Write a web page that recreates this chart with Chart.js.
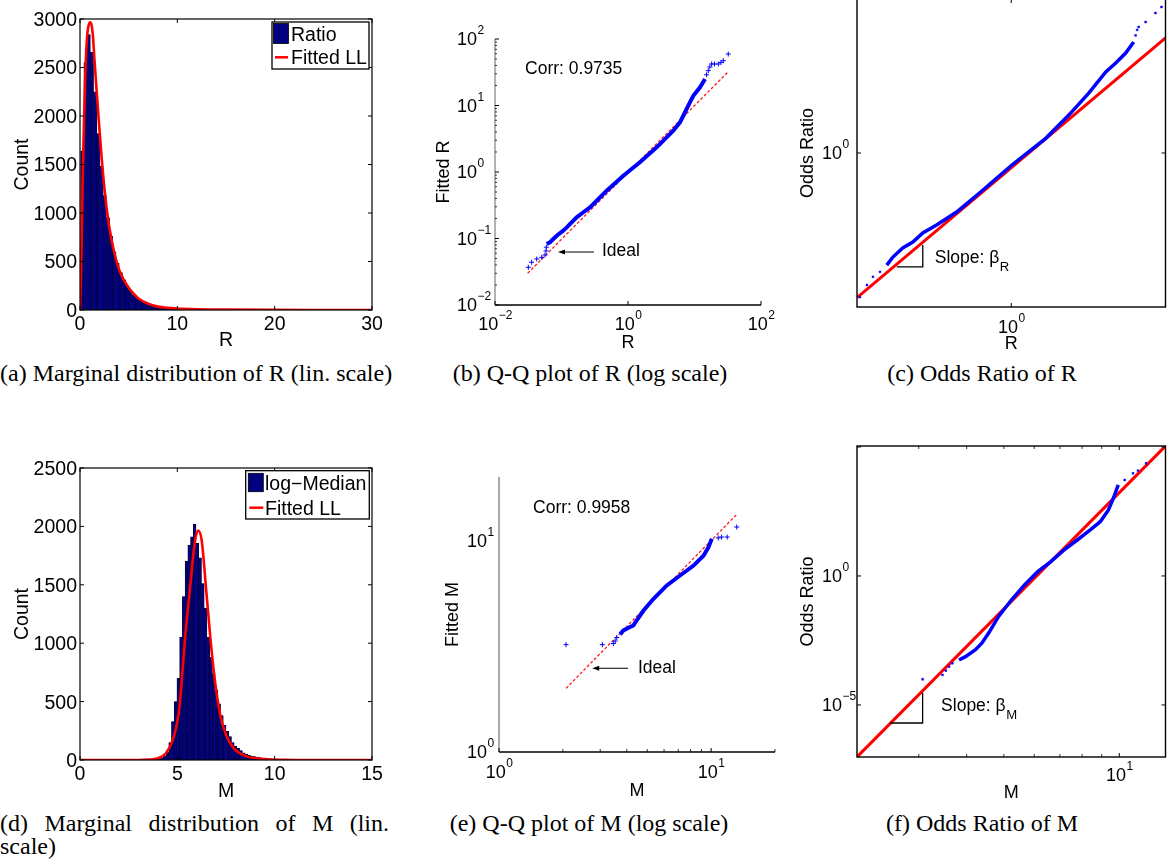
<!DOCTYPE html>
<html><head><meta charset="utf-8">
<script src="https://cdn.jsdelivr.net/npm/chart.js@4/dist/chart.umd.min.js"></script>
<style>
html,body{margin:0;padding:0;background:#fff;width:1167px;height:859px;overflow:hidden;position:relative;}
canvas{position:absolute;}
.cap{position:absolute;font-family:"Liberation Serif","Times New Roman",serif;font-size:24px;line-height:26px;white-space:nowrap;color:#000;}
</style></head><body>
<canvas id="ca"></canvas><canvas id="cb"></canvas><canvas id="cc"></canvas>
<canvas id="cd"></canvas><canvas id="ce"></canvas><canvas id="cf"></canvas>
<div class="cap" style="left:0;top:360px;width:390px;text-align:center">(a) Marginal distribution of R (lin. scale)</div>
<div class="cap" style="left:390px;top:360px;width:400px;text-align:center">(b) Q-Q plot of R (log scale)</div>
<div class="cap" style="left:782px;top:360px;width:400px;text-align:center">(c) Odds Ratio of R</div>
<div class="cap" style="left:0;top:810px;width:389px;text-align:justify;text-align-last:justify">(d) Marginal distribution of M (lin.</div>
<div class="cap" style="left:0;top:833px;">scale)</div>
<div class="cap" style="left:389px;top:810px;width:400px;text-align:center">(e) Q-Q plot of M (log scale)</div>
<div class="cap" style="left:782px;top:810px;width:400px;text-align:center">(f) Odds Ratio of M</div>
<script>
// ---------------- DATA ----------------
// (a) histogram of R
const rBinCenters = [0.235,0.565,0.895,1.225,1.555,1.885,2.215,2.545,2.875,3.205,3.535,3.865,4.195,4.525,4.855,5.185,5.515,5.845,6.175,6.505,6.835,7.165,7.495,7.825,8.155,8.485,8.815,9.145,9.475,9.805,10.135,10.465,10.795,11.125,11.455,11.785,12.115,12.445,12.775,13.105,13.435,13.765,14.095,14.425,14.755];
const rCounts = [1640,2550,2840,2660,2250,1820,1480,1180,950,760,600,480,385,310,250,200,160,128,102,82,67,55,45,37,31,26,21,18,15,13,11,9,8,7,6,5,5,4,4,3,3,3,2,2,2];
const rFitX = [0,0.1,0.2,0.35,0.5,0.7,0.9,1.1,1.3,1.5,1.75,2.0,2.25,2.5,2.75,3.0,3.5,4.0,4.5,5.0,5.5,6.0,7.0,8.0,9.0,10,12,15,20,25,30];
const rFitY = [0,350,900,1700,2300,2780,2940,2965,2860,2560,2200,1860,1540,1260,1040,860,600,420,310,230,170,118,64,35,22,15,8,3.5,1.2,0.6,0.3];
const aXTicks = [0,10,20,30];
const aYTicks = [0,500,1000,1500,2000,2500,3000];

// (b) Q-Q plot of R
const qqRDenseX = [0.0599,0.0671,0.0753,0.0847,0.106,0.120,0.142,0.169,0.213,0.268,0.338,0.478,0.850,1.51,2.70,4.80,6.05,7.20,8.56,9.60,12.1,14.4];
const qqRDenseY = [0.0826,0.0877,0.0983,0.110,0.131,0.147,0.175,0.208,0.248,0.294,0.370,0.524,0.880,1.40,2.35,4.18,5.59,7.91,11.2,14.0,18.8,25.0];
const qqRSparseX = [0.0317,0.0356,0.0424,0.0504,0.0565,0.0585,0.0592,15.2,16.1,17.0,18.1,20.0,22.8,25.0,27.1,32.2];
const qqRSparseY = [0.0369,0.0439,0.0492,0.0521,0.0565,0.065,0.074,29.0,33.4,38.0,42.1,42.1,42.1,44.5,47.2,59.4];
const qqRIdealX = [0.031,32];
const qqRIdealY = [0.030,32];
const bXExp = [-2,0,2];
const bYExp = [-2,-1,0,1,2];

// (c) Odds ratio of R
const orRDenseX = [0.156,0.171,0.198,0.230,0.267,0.328,0.442,0.622,1.01,1.68,2.37,3.18,4.10,4.76,5.52,6.22];
const orRDenseY = [0.187,0.211,0.242,0.264,0.303,0.341,0.414,0.550,0.836,1.25,1.77,2.45,3.36,3.84,4.46,5.26];
const orRSparseX = [0.100,0.1045,0.116,0.127,0.141,6.40,6.55,6.70,7.43,8.61,9.42];
const orRSparseY = [0.100,0.116,0.139,0.157,0.169,5.80,6.30,6.58,7.09,8.11,8.87];
const orRFitX = [0.1,10];
const orRFitY = [0.115,5.58];
const cXExp = [0];
const cYExp = [0];

// (d) histogram of M
const mBinCenters = [3.93,4.07,4.21,4.35,4.49,4.63,4.77,4.91,5.05,5.19,5.33,5.47,5.61,5.75,5.89,6.03,6.17,6.31,6.45,6.59,6.73,6.87,7.01,7.15,7.29,7.43,7.57,7.71,7.85,7.99,8.13,8.27,8.41,8.55,8.69,8.83,8.97,9.11,9.25,9.39,9.53,9.67,9.81,9.95,10.09,10.23,10.37,10.51];
const mCounts = [3,8,18,35,65,150,330,500,700,1050,1400,1700,1840,1910,2020,1855,1730,1510,1300,1050,880,740,600,480,380,300,245,200,150,120,100,80,62,48,40,34,29,25,21,17,14,11,9,7,5,4,3,2];
const mFitX = [0,3.0,3.5,4.0,4.4,4.8,5.1,5.4,5.7,5.9,6.07,6.25,6.5,6.7,6.93,7.2,7.5,7.9,8.5,9.5,10.5,12,15];
const mFitY = [0,0,3,15,55,190,440,1050,1550,1870,1965,1880,1420,1040,680,390,215,100,35,8,2,0.3,0];
const dXTicks = [0,5,10,15];
const dYTicks = [0,500,1000,1500,2000,2500];

// (e) Q-Q plot of M
const qqMDenseX = [3.72,3.86,4.15,4.30,4.46,4.80,5.35,6.18,7.14,8.26,9.20,9.71,10.07];
const qqMDenseY = [3.60,3.76,3.90,3.97,4.20,4.67,5.31,6.14,6.84,7.62,8.49,9.29,10.2];
const qqMSparseX = [2.07,3.07,3.46,3.53,3.59,10.8,11.2,11.9,13.2];
const qqMSparseY = [3.22,3.22,3.26,3.35,3.48,10.3,10.4,10.4,11.6];
const qqMIdealX = [2.07,13.2];
const qqMIdealY = [2.0,13.3];
const eXExp = [0,1];
const eYExp = [0,1];

// (f) Odds ratio of M
const orMDenseX = [3.82,3.97,4.21,4.38,4.56,4.84,5.23,5.66,6.13,6.63,7.18,7.77,8.40,8.92,9.37,9.65,9.94];
const orMDenseY = [5.55e-4,7.45e-4,1.35e-3,2.46e-3,6.0e-3,0.0264,0.117,0.448,1.47,3.58,10.2,24.8,60.7,127,361,1027,3370];
const orMSparseX = [3.07,3.46,3.53,3.60,3.67,10.33,10.86,11.19,11.75];
const orMSparseY = [9.9e-5,1.46e-4,2.13e-4,3.05e-4,4.13e-4,5260,9570,12060,23300];
const orMFitX = [2.07,13.2];
const orMFitY = [9.6e-8,1.09e5];
const fXExp = [1];
const fYExp = [0,-5];

// ---------------- HELPERS ----------------
const F = '"Liberation Sans", Arial, Helvetica, sans-serif';
const pts = (xs, ys) => xs.map((x, i) => ({x: x, y: ys[i]}));
function txt(ctx, s, x, y, size, align) {
  ctx.font = size + 'px ' + F; ctx.textAlign = align || 'left'; ctx.textBaseline = 'alphabetic';
  ctx.fillText(s, x, y + size * 0.355);
}
function pow10(ctx, e, x, y, size, esize, mode) {
  const es = String(e).replace('-', '\u2212');
  ctx.font = size + 'px ' + F; const bw = ctx.measureText('10').width;
  ctx.font = esize + 'px ' + F; const ew = ctx.measureText(es).width;
  const bx = mode === 'center' ? x - (bw + ew) / 2 : x - bw;
  txt(ctx, '10', bx, y, size, 'left');
  txt(ctx, es, bx + bw + 0.5, y - size * 0.5, esize, 'left');
}
function minorLog(lo, hi) {
  const out = [];
  for (let k = Math.floor(Math.log10(lo)); k <= Math.ceil(Math.log10(hi)); k++)
    for (let m = 2; m <= 9; m++) { const v = m * Math.pow(10, k); if (v > lo && v < hi) out.push(v); }
  return out;
}
function seg(ctx, x1, y1, x2, y2) { ctx.beginPath(); ctx.moveTo(x1, y1); ctx.lineTo(x2, y2); ctx.stroke(); }

function matlab(cfg) {
  return {
    id: 'matlab',
    afterDatasetsDraw(chart) {
      const ctx = chart.ctx, ca = chart.chartArea, X = chart.scales.x, Y = chart.scales.y;
      const L = ca.left, R = ca.right, T = ca.top, B = ca.bottom;
      ctx.save();
      ctx.fillStyle = '#000'; ctx.strokeStyle = '#000';
      if (cfg.box) {
        ctx.lineWidth = cfg.lw; ctx.strokeRect(L, T, R - L, B - T);
      } else {
        ctx.lineWidth = cfg.lwLeft; ctx.strokeStyle = cfg.leftColor; seg(ctx, L, T, L, B);
        ctx.lineWidth = cfg.lwBottom; ctx.strokeStyle = '#000'; seg(ctx, L, B, R, B);
      }
      ctx.strokeStyle = '#000'; ctx.lineWidth = 1;
      const tl = cfg.tickLen, ml = cfg.minorLen;
      (cfg.xMarks || []).forEach(v => { const p = X.getPixelForValue(v); seg(ctx, p, B, p, B - tl); if (cfg.box) seg(ctx, p, T, p, T + tl); });
      (cfg.yMarks || []).forEach(v => { const p = Y.getPixelForValue(v); seg(ctx, L, p, L + tl, p); if (cfg.box) seg(ctx, R, p, R - tl, p); });
      ctx.lineWidth = 0.8;
      (cfg.xMinor || []).forEach(v => { const p = X.getPixelForValue(v); seg(ctx, p, B, p, B - ml); if (cfg.box) seg(ctx, p, T, p, T + ml); });
      (cfg.yMinor || []).forEach(v => { const p = Y.getPixelForValue(v); seg(ctx, L, p, L + ml, p); if (cfg.box) seg(ctx, R, p, R - ml, p); });
      ctx.fillStyle = '#000';
      (cfg.xLabels || []).forEach(v => {
        const p = X.getPixelForValue(cfg.log ? Math.pow(10, v) : v);
        if (cfg.log) pow10(ctx, v, p, B + cfg.xLabDy, cfg.tf, cfg.ef, 'center');
        else txt(ctx, String(v), p, B + cfg.xLabDy, cfg.tf, 'center');
      });
      (cfg.yLabels || []).forEach(v => {
        const p = Y.getPixelForValue(cfg.log ? Math.pow(10, v) : v);
        if (cfg.log) pow10(ctx, v, L - cfg.yLabDx, p, cfg.tf, cfg.ef, 'right');
        else txt(ctx, String(v), L - cfg.yLabDx, p, cfg.tf, 'right');
      });
      txt(ctx, cfg.xTitle, (L + R) / 2 + (cfg.xTitleDx || 0), B + cfg.xTitleDy, cfg.titleF, 'center');
      ctx.save(); ctx.translate(L + cfg.yTitleDx, (T + B) / 2); ctx.rotate(-Math.PI / 2);
      txt(ctx, cfg.yTitle, 0, 0, cfg.titleF, 'center'); ctx.restore();
      (cfg.texts || []).forEach(t => {
        const px = X.getPixelForValue(t.x), py = Y.getPixelForValue(t.y);
        txt(ctx, t.text, px, py, t.size, 'left');
        if (t.sub) { ctx.font = t.size + 'px ' + F; const w = ctx.measureText(t.text).width; txt(ctx, t.sub, px + w + 0.5, py + t.size * 0.55, t.size * 0.75, 'left'); }
      });
      ctx.lineWidth = 1;
      (cfg.arrows || []).forEach(a => {
        const x1 = X.getPixelForValue(a.x1), x2 = X.getPixelForValue(a.x2), y = Y.getPixelForValue(a.y);
        seg(ctx, x1, y, x2 + 3, y);
        ctx.beginPath(); ctx.moveTo(x2, y); ctx.lineTo(x2 + 7, y - 2.5); ctx.lineTo(x2 + 7, y + 2.5); ctx.closePath(); ctx.fill();
      });
      ctx.lineWidth = 1.3;
      (cfg.tris || []).forEach(t => {
        const x1 = X.getPixelForValue(t.x1), x2 = X.getPixelForValue(t.x2), y1 = Y.getPixelForValue(t.y1), y2 = Y.getPixelForValue(t.y2);
        ctx.beginPath(); ctx.moveTo(x1, y1); ctx.lineTo(x2, y1); ctx.lineTo(x2, y2); ctx.stroke();
      });
      if (cfg.legend) {
        const lg = cfg.legend, bx = R - lg.right - lg.w, by = T + lg.top;
        ctx.fillStyle = '#fff'; ctx.fillRect(bx, by, lg.w, lg.h);
        ctx.strokeStyle = '#000'; ctx.lineWidth = 1.3; ctx.strokeRect(bx, by, lg.w, lg.h);
        lg.items.forEach(it => {
          if (it.kind === 'box') {
            ctx.fillStyle = '#000080'; ctx.fillRect(bx + it.sx, by + it.sy, it.sw, it.sh);
            ctx.lineWidth = 0.8; ctx.strokeStyle = '#000'; ctx.strokeRect(bx + it.sx, by + it.sy, it.sw, it.sh);
          } else {
            ctx.strokeStyle = '#ff0000'; ctx.lineWidth = 2.5; seg(ctx, bx + it.sx, by + it.ty, bx + it.sx + it.sw, by + it.ty);
          }
          ctx.fillStyle = '#000'; txt(ctx, it.text, bx + lg.tx, by + it.ty, lg.size, 'left');
        });
      }
      ctx.restore();
    }
  };
}

function place(id, x0, y0, w, h) {
  const c = document.getElementById(id);
  c.width = w; c.height = h;
  c.style.left = x0 + 'px'; c.style.top = y0 + 'px'; c.style.width = w + 'px'; c.style.height = h + 'px';
  return c;
}
function opts(pad, xs, ys) {
  return {
    responsive: false, animation: false, devicePixelRatio: 1, events: [],
    layout: {padding: pad},
    plugins: {legend: {display: false}, tooltip: {enabled: false}},
    scales: {x: Object.assign({display: false}, xs), y: Object.assign({display: false}, ys)}
  };
}

// ---------------- (a) ----------------
new Chart(place('ca', 0, 0, 390, 350), {
  type: 'bar',
  data: {datasets: [
    {type: 'line', label: 'Fitted LL', data: pts(rFitX, rFitY), borderColor: '#ff0000', borderWidth: 2.6, pointRadius: 0, cubicInterpolationMode: 'monotone', order: 0},
    {type: 'bar', label: 'Ratio', data: pts(rBinCenters, rCounts), backgroundColor: '#000080', borderColor: '#000000', borderWidth: 0.5, barPercentage: 1, categoryPercentage: 1, order: 1}
  ]},
  options: opts({left: 80, top: 19, right: 18, bottom: 40}, {type: 'linear', min: 0, max: 30, offset: false}, {type: 'linear', min: 0, max: 3000}),
  plugins: [matlab({box: true, lw: 1.2, tickLen: 4, minorLen: 2, xMarks: aXTicks, yMarks: aYTicks,
    xLabels: aXTicks, yLabels: aYTicks, tf: 19.5, xLabDy: 13, yLabDx: 3,
    xTitle: 'R', xTitleDy: 29, yTitle: 'Count', yTitleDx: -59, titleF: 19.5,
    legend: {right: 3, top: 3, w: 97, h: 47, size: 19.5, tx: 19,
      items: [{kind: 'box', text: 'Ratio', sx: 1.5, sy: 1.5, sw: 15, sh: 20, ty: 12.3}, {kind: 'line', text: 'Fitted LL', sx: 3, sw: 13, ty: 35.3}]}})]
});

// ---------------- (b) ----------------
new Chart(place('cb', 390, 0, 390, 350), {
  type: 'scatter',
  data: {datasets: [
    {label: 'R quantiles', data: pts(qqRDenseX, qqRDenseY), showLine: true, borderColor: '#0000ff', borderWidth: 4, pointRadius: 0, order: 0},
    {label: 'R quantiles (tails)', data: pts(qqRSparseX, qqRSparseY), showLine: false, pointStyle: 'cross', pointRadius: 2.5, borderColor: '#0000ff', borderWidth: 1, order: 0},
    {label: 'Ideal', data: pts(qqRIdealX, qqRIdealY), showLine: true, borderColor: '#ff1a1a', borderWidth: 1.3, borderDash: [3, 2], pointRadius: 0, order: 1}
  ]},
  options: opts({left: 105, top: 39, right: 19, bottom: 45}, {type: 'logarithmic', min: 0.01, max: 100}, {type: 'logarithmic', min: 0.01, max: 100}),
  plugins: [matlab({box: false, log: true, lwLeft: 1, leftColor: '#666', lwBottom: 1.4, tickLen: 4, minorLen: 2,
    xMarks: [0.01, 1, 100], yMarks: [0.01, 0.1, 1, 10, 100], yMinor: minorLog(0.01, 100),
    xLabels: bXExp, yLabels: bYExp, tf: 18, ef: 12, xLabDy: 18.5, yLabDx: 18,
    xTitle: 'R', xTitleDy: 37, yTitle: 'Fitted R', yTitleDx: -52, titleF: 18,
    texts: [{x: 0.0283, y: 36.6, text: 'Corr: 0.9735', size: 17.5}, {x: 0.406, y: 0.0671, text: 'Ideal', size: 17.5}],
    arrows: [{x1: 0.308, x2: 0.0886, y: 0.0626}]})]
});

// ---------------- (c) ----------------
new Chart(place('cc', 780, -20, 390, 370), {
  type: 'scatter',
  data: {datasets: [
    {label: 'Odds ratio', data: pts(orRDenseX, orRDenseY), showLine: true, borderColor: '#0000ff', borderWidth: 3.5, pointRadius: 0, order: 0},
    {label: 'Odds ratio (tails)', data: pts(orRSparseX, orRSparseY), showLine: false, pointStyle: 'rect', pointRadius: 1.3, backgroundColor: '#0000ff', borderColor: '#0000ff', borderWidth: 0.5, order: 0},
    {label: 'Fit', data: pts(orRFitX, orRFitY), showLine: true, borderColor: '#ff0000', borderWidth: 3, pointRadius: 0, order: 1}
  ]},
  options: opts({left: 77, top: 19, right: 2, bottom: 43}, {type: 'logarithmic', min: 0.1, max: 10}, {type: 'logarithmic', min: 0.1, max: 10}),
  plugins: [matlab({box: true, log: true, lw: 1.4, tickLen: 4, minorLen: 2,
    xMarks: [1], yMarks: [1], xLabels: cXExp, yLabels: cYExp, tf: 18, ef: 12, xLabDy: 19.5, yLabDx: 15,
    xTitle: 'R', xTitleDy: 36, yTitle: 'Odds Ratio', yTitleDx: -50, titleF: 18,
    texts: [{x: 0.319, y: 0.211, text: 'Slope: \u03b2', sub: 'R', size: 17.5}],
    tris: [{x1: 0.181, x2: 0.267, y1: 0.182, y2: 0.253}]})]
});

// ---------------- (d) ----------------
new Chart(place('cd', 0, 430, 390, 370), {
  type: 'bar',
  data: {datasets: [
    {type: 'line', label: 'Fitted LL', data: pts(mFitX, mFitY), borderColor: '#ff0000', borderWidth: 2.6, pointRadius: 0, cubicInterpolationMode: 'monotone', order: 0},
    {type: 'bar', label: 'log\u2212Median', data: pts(mBinCenters, mCounts), backgroundColor: '#000080', borderColor: '#000000', borderWidth: 0.5, barPercentage: 1, categoryPercentage: 1, order: 1}
  ]},
  options: opts({left: 80, top: 38, right: 18, bottom: 40}, {type: 'linear', min: 0, max: 15, offset: false}, {type: 'linear', min: 0, max: 2500}),
  plugins: [matlab({box: true, lw: 1.2, tickLen: 4, minorLen: 2, xMarks: dXTicks, yMarks: dYTicks,
    xLabels: dXTicks, yLabels: dYTicks, tf: 19.5, xLabDy: 13, yLabDx: 3,
    xTitle: 'M', xTitleDy: 30, yTitle: 'Count', yTitleDx: -59, titleF: 19.5,
    legend: {right: 2.7, top: 2.7, w: 123.6, h: 48.3, size: 19.5, tx: 19.3,
      items: [{kind: 'box', text: 'log\u2212Median', sx: 2.6, sy: 2.6, sw: 15, sh: 18.4, ty: 12.6}, {kind: 'line', text: 'Fitted LL', sx: 3.6, sw: 14, ty: 37}]}})]
});

// ---------------- (e) ----------------
new Chart(place('ce', 390, 430, 390, 370), {
  type: 'scatter',
  data: {datasets: [
    {label: 'M quantiles', data: pts(qqMDenseX, qqMDenseY), showLine: true, borderColor: '#0000ff', borderWidth: 4, pointRadius: 0, order: 0},
    {label: 'M quantiles (tails)', data: pts(qqMSparseX, qqMSparseY), showLine: false, pointStyle: 'cross', pointRadius: 2.5, borderColor: '#0000ff', borderWidth: 1, order: 0},
    {label: 'Ideal', data: pts(qqMIdealX, qqMIdealY), showLine: true, borderColor: '#ff1a1a', borderWidth: 1.3, borderDash: [3, 2], pointRadius: 0, order: 1}
  ]},
  options: opts({left: 109, top: 47, right: 5, bottom: 48}, {type: 'logarithmic', min: 1, max: 20}, {type: 'logarithmic', min: 1, max: 20}),
  plugins: [matlab({box: false, log: true, lwLeft: 1, leftColor: '#555', lwBottom: 1.4, tickLen: 4, minorLen: 3,
    xMarks: [1, 10], xMinor: minorLog(1, 21), yMarks: [],
    xLabels: eXExp, yLabels: eYExp, tf: 18, ef: 12, xLabDy: 20, yLabDx: 12,
    xTitle: 'M', xTitleDy: 38, yTitle: 'Fitted M', yTitleDx: -47, titleF: 18,
    texts: [{x: 1.447, y: 14.5, text: 'Corr: 0.9958', size: 17.5}, {x: 4.52, y: 2.54, text: 'Ideal', size: 17.5}],
    arrows: [{x1: 4.06, x2: 2.75, y: 2.49}]})]
});

// ---------------- (f) ----------------
new Chart(place('cf', 780, 430, 390, 370), {
  type: 'scatter',
  data: {datasets: [
    {label: 'Odds ratio', data: pts(orMDenseX, orMDenseY), showLine: true, borderColor: '#0000ff', borderWidth: 3.5, pointRadius: 0, order: 0},
    {label: 'Odds ratio (tails)', data: pts(orMSparseX, orMSparseY), showLine: false, pointStyle: 'rect', pointRadius: 1.3, backgroundColor: '#0000ff', borderColor: '#0000ff', borderWidth: 0.5, order: 0},
    {label: 'Fit', data: pts(orMFitX, orMFitY), showLine: true, borderColor: '#ff0000', borderWidth: 3, pointRadius: 0, order: 1}
  ]},
  options: opts({left: 77, top: 16, right: 2, bottom: 43}, {type: 'logarithmic', min: 2.07, max: 13.2}, {type: 'logarithmic', min: 9.6e-8, max: 1.09e5}),
  plugins: [matlab({box: true, log: true, lw: 1.4, tickLen: 4, minorLen: 3,
    xMarks: [10], xMinor: minorLog(2.07, 13.2), yMarks: [1e-5, 1, 1e5],
    xLabels: fXExp, yLabels: fYExp, tf: 18, ef: 12, xLabDy: 17.5, yLabDx: 15,
    xTitle: 'M', xTitleDy: 35, yTitle: 'Odds Ratio', yTitleDx: -50, titleF: 18,
    texts: [{x: 3.43, y: 1e-5, text: 'Slope: \u03b2', sub: 'M', size: 17.5}],
    tris: [{x1: 2.52, x2: 3.07, y1: 2.0e-6, y2: 2.9e-5}]})]
});
</script>
</body></html>
